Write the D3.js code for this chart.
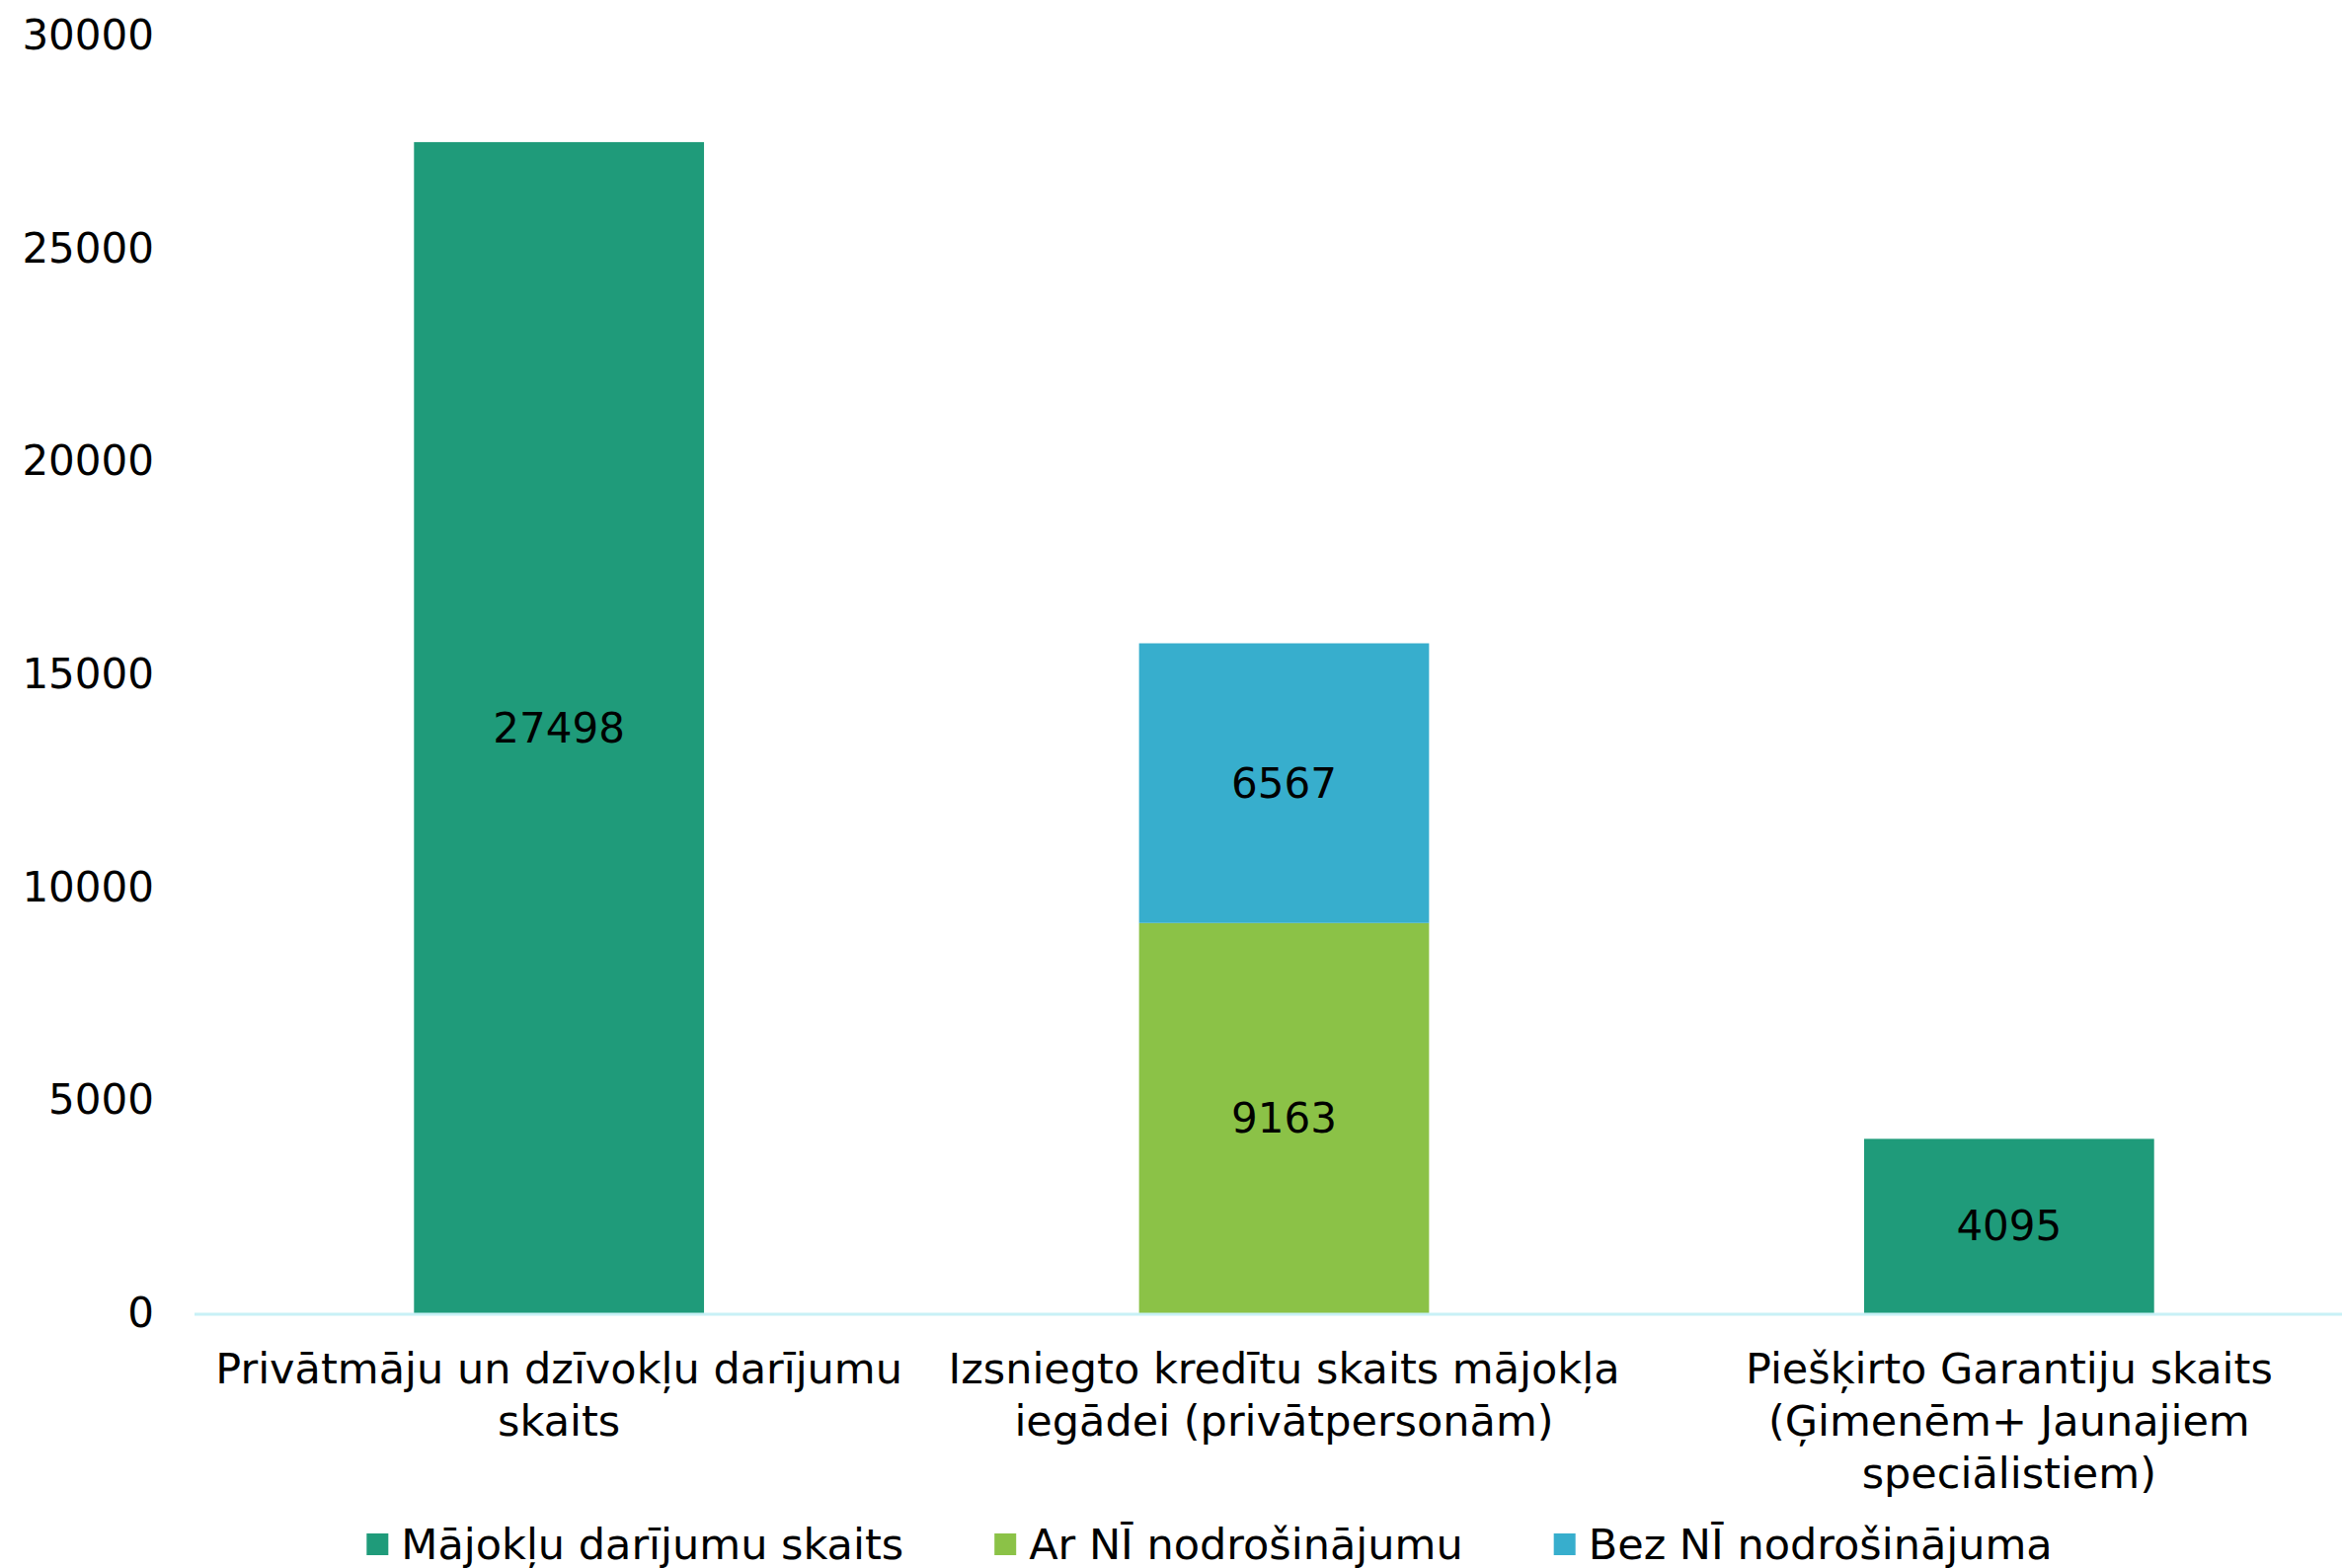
<!DOCTYPE html>
<html>
<head>
<meta charset="utf-8">
<script src="https://cdn.jsdelivr.net/npm/d3@7"></script>
<style>
  html, body { margin: 0; padding: 0; background: #fff; }
  svg text { font-family: "DejaVu Sans", Verdana, sans-serif; fill: #000; }
</style>
</head>
<body>
<div id="chart"></div>
<script>
// categories (x axis), with line breaks as they wrap in the original
const categories = [
    ["Privātmāju un dzīvokļu darījumu", "skaits"],
    ["Izsniegto kredītu skaits mājokļa", "iegādei (privātpersonām)"],
    ["Piešķirto Garantiju skaits", "(Ģimenēm+ Jaunajiem", "speciālistiem)"]
];
const seriesNames = ["Mājokļu darījumu skaits", "Ar NĪ nodrošinājumu", "Bez NĪ nodrošinājuma"];
const seriesColors = ["#1f9b7a", "#8bc247", "#37aecd"];
// values per category, one array per series
const majokluDarijumi = [27498, 0, 4095];
const arNI = [0, 9163, 0];
const bezNI = [0, 6567, 0];
const yTicks = [0, 5000, 10000, 15000, 20000, 25000, 30000];

const W = 2372, H = 1588;
const fontSize = 42;
const catFontSize = 43;

const svg = d3.select("#chart")
    .append("svg")
    .attr("width", W)
    .attr("height", H);

const keys = categories.map((c, i) => "c" + i);
const table = keys.map((k, i) => ({
    key: k,
    s0: majokluDarijumi[i],
    s1: arNI[i],
    s2: bezNI[i]
}));
const stacked = d3.stack().keys(["s0", "s1", "s2"])(table);

const x = d3.scaleBand()
    .domain(keys)
    .range([199, 2402])
    .paddingInner(0.6)
    .paddingOuter(0.3);

const y = d3.scaleLinear()
    .domain([0, 30000])
    .range([1330, 36]);

// y axis labels, no line, no ticks
const yAxis = svg.append("g")
    .attr("transform", "translate(156,0)")
    .call(d3.axisLeft(y).tickValues(yTicks).tickSize(0).tickPadding(0).tickFormat(d3.format("d")));
yAxis.select(".domain").remove();
yAxis.selectAll("text")
    .style("font-size", fontSize + "px")
    .attr("fill", "#000");

// bars
const layers = svg.append("g")
    .selectAll("g")
    .data(stacked)
    .join("g")
    .attr("fill", (d, i) => seriesColors[i]);

layers.selectAll("rect")
    .data(d => d.filter(p => p[1] - p[0] > 0))
    .join("rect")
    .attr("x", d => x(d.data.key))
    .attr("y", d => y(d[1]))
    .attr("width", x.bandwidth())
    .attr("height", d => y(d[0]) - y(d[1]));

// value labels in the middle of each segment
layers.selectAll("text")
    .data(d => d.filter(p => p[1] - p[0] > 0))
    .join("text")
    .attr("x", d => x(d.data.key) + x.bandwidth() / 2)
    .attr("y", d => (y(d[0]) + y(d[1])) / 2)
    .attr("dy", "0.35em")
    .attr("text-anchor", "middle")
    .style("font-size", fontSize + "px")
    .text(d => d[1] - d[0]);

// x axis baseline
svg.append("line")
    .attr("x1", 197)
    .attr("x2", W)
    .attr("y1", y(0) + 1)
    .attr("y2", y(0) + 1)
    .attr("stroke", "#c8f1f6")
    .attr("stroke-width", 3);

// category labels
svg.append("g")
    .selectAll("text")
    .data(categories)
    .join("text")
    .attr("text-anchor", "middle")
    .style("font-size", catFontSize + "px")
    .attr("transform", (d, i) => `translate(${x(keys[i]) + x.bandwidth() / 2}, 1386)`)
    .selectAll("tspan")
    .data(d => d)
    .join("tspan")
    .attr("x", 0)
    .attr("y", (d, j) => j * 53)
    .attr("dy", "0.35em")
    .text(d => d);

// legend
const legend = svg.append("g").attr("transform", "translate(0,1564)");
const items = legend.selectAll("g")
    .data(seriesNames)
    .join("g");
items.append("rect")
    .attr("y", -11)
    .attr("width", 22)
    .attr("height", 22)
    .attr("fill", (d, i) => seriesColors[i]);
items.append("text")
    .attr("x", 35)
    .attr("dy", "0.35em")
    .style("font-size", catFontSize + "px")
    .text(d => d);

let offs = [], cur = 0;
items.each(function () {
    offs.push(cur);
    cur += 35 + this.querySelector("text").getComputedTextLength() + 92;
});
const total = cur - 92;
const startX = 1225 - total / 2;
items.attr("transform", (d, i) => `translate(${startX + offs[i]},0)`);
</script>
</body>
</html>
